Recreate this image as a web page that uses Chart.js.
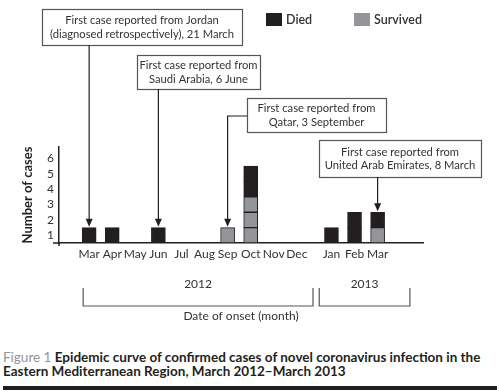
<!DOCTYPE html>
<html lang="en">
<head>
<meta charset="UTF-8">
<title>Epidemic curve, MERS-CoV, Eastern Mediterranean Region</title>
<script src="https://cdn.jsdelivr.net/npm/chart.js"></script>
<style>
  body { margin: 0; background: #fff; font-family: Lato, sans-serif; }
  .wrap { position: relative; width: 500px; height: 392px; overflow: hidden; }
  .chart-box { position: absolute; left: 0; top: 0; width: 500px; height: 330px; }
  .caption {
    position: absolute; left: 3px; top: 350px; width: 497px;
    font-size: 13.5px; line-height: 14.4px; font-weight: bold; color: #231f20;
  }
  .caption .fig { color: #939598; font-weight: normal; }
  .rule { position: absolute; left: 3px; width: 494px; top: 386px; height: 4px; background: #231f20; }
</style>
</head>
<body>
<div class="wrap">
  <div class="chart-box"><canvas id="curve"></canvas></div>
  <div class="caption"><span class="fig">Figure 1</span> Epidemic curve of confirmed cases of novel coronavirus infection in the Eastern Mediterranean Region, March 2012–March 2013</div>
  <div class="rule"></div>
</div>

<script>
// months of onset, March 2012 - March 2013
const months = ['Mar', 'Apr', 'May', 'Jun', 'Jul', 'Aug', 'Sep', 'Oct', 'Nov', 'Dec', 'Jan', 'Feb', 'Mar'];
const years = [2012, 2012, 2012, 2012, 2012, 2012, 2012, 2012, 2012, 2012, 2013, 2013, 2013];
const died = [1, 1, 0, 1, 0, 0, 0, 2, 0, 0, 1, 2, 1];
const survived = [0, 0, 0, 0, 0, 0, 1, 3, 0, 0, 0, 0, 1];
const yTicks = [1, 2, 3, 4, 5, 6];

const notes = [
  { lines: ['First case reported from Jordan', '(diagnosed retrospectively), 21 March'], month: 0, box: [42, 9, 242, 45] },
  { lines: ['First case reported from', 'Saudi Arabia, 6 June'], month: 3, box: [137, 55, 260, 89] },
  { lines: ['First case reported from', 'Qatar, 3 September'], month: 6, box: [247, 98, 386, 132], elbowY: 116 },
  { lines: ['First case reported from', 'United Arab Emirates, 8 March'], month: 12, box: [319, 140, 481, 177] }
];

const INK = '#231f20';
const GREY = '#939598';
const TEXT = '#333';

// small gap between the two years on the time axis
const xPos = months.map((m, i) => i + (years[i] > years[0] ? 0.5 : 0));
const totals = months.map((m, i) => died[i] + survived[i]);

// one dataset per case so every case gets its own box
const datasets = [];
for (let k = 1; k <= Math.max(...survived); k++) {
  datasets.push({
    label: 'Survived',
    data: survived.map((v, i) => ({ x: xPos[i], y: v >= k ? 1 : null })),
    backgroundColor: GREY
  });
}
for (let k = 1; k <= Math.max(...died); k++) {
  datasets.push({
    label: 'Died',
    data: died.map((v, i) => ({ x: xPos[i], y: v >= k ? 1 : null })),
    backgroundColor: INK
  });
}

const extras = {
  id: 'extras',
  afterDraw(chart) {
    const c = chart.ctx;
    const xs = chart.scales.x, ys = chart.scales.y;
    const base = ys.getPixelForValue(0);
    c.save();
    c.strokeStyle = INK;
    c.fillStyle = INK;

    // axis stubs past the corner
    c.lineWidth = 1.5;
    c.beginPath();
    c.moveTo(xs.left - 6, base); c.lineTo(xs.left, base);
    c.moveTo(xs.left, base); c.lineTo(xs.left, base + 3);
    c.stroke();

    // legend
    c.textBaseline = 'middle';
    c.fillStyle = INK;
    c.fillRect(266, 13, 16, 13);
    c.fillStyle = GREY;
    c.fillRect(354, 13, 16, 13);
    c.font = '600 12.5px Lato';
    c.fillStyle = TEXT;
    c.textAlign = 'left';
    c.fillText('Died', 286, 19.5);
    c.fillText('Survived', 374, 19.5);

    // annotation boxes with arrows
    c.font = '11.2px Lato';
    c.textAlign = 'center';
    c.lineWidth = 1.2;
    notes.forEach(n => {
      const [x1, y1, x2, y2] = n.box;
      c.strokeStyle = '#555';
      c.strokeRect(x1 + 0.5, y1 + 0.5, x2 - x1, y2 - y1);
      c.fillStyle = TEXT;
      const mid = (y1 + y2) / 2;
      c.fillText(n.lines[0], (x1 + x2) / 2, mid - 6.5);
      c.fillText(n.lines[1], (x1 + x2) / 2, mid + 7);

      const ax = xs.getPixelForValue(xPos[n.month]);
      const ay = ys.getPixelForValue(totals[n.month]) - 1;
      c.strokeStyle = INK;
      c.beginPath();
      if (n.elbowY) {
        c.moveTo(x1, n.elbowY);
        c.lineTo(ax, n.elbowY);
      } else {
        c.moveTo(ax, y2);
      }
      c.lineTo(ax, ay - 6);
      c.stroke();
      c.fillStyle = INK;
      c.beginPath();
      c.moveTo(ax - 3.5, ay - 8);
      c.lineTo(ax + 3.5, ay - 8);
      c.lineTo(ax, ay);
      c.closePath();
      c.fill();
    });

    // year brackets under the month labels
    const brackets = [
      { label: String(years[0]), from: -0.26, to: 9.7 },
      { label: String(years[years.length - 1]), from: 9.97, to: 13.9 }
    ];
    c.strokeStyle = '#555';
    c.lineWidth = 1.2;
    c.font = '12px Lato';
    c.fillStyle = TEXT;
    brackets.forEach(b => {
      const l = xs.getPixelForValue(b.from), r = xs.getPixelForValue(b.to);
      c.beginPath();
      c.moveTo(l, 288); c.lineTo(l, 306); c.lineTo(r, 306); c.lineTo(r, 288);
      c.stroke();
      c.fillText(b.label, (l + r) / 2, 284);
    });
    c.restore();
  }
};

new Chart(document.getElementById('curve'), {
  type: 'bar',
  data: { datasets },
  options: {
    responsive: true,
    maintainAspectRatio: false,
    animation: false,
    layout: { padding: { top: 147, right: 77, left: 0, bottom: 0 } },
    datasets: {
      bar: {
        barThickness: 14,
        borderColor: INK,
        borderWidth: 1,
        borderSkipped: false
      }
    },
    plugins: { legend: { display: false }, tooltip: { enabled: false } },
    scales: {
      x: {
        type: 'linear',
        stacked: true,
        min: -0.7,
        max: 13.86,
        grid: { display: false, drawTicks: false },
        border: { display: true, color: INK, width: 1.5 },
        afterBuildTicks: s => { s.ticks = xPos.map(v => ({ value: v })); },
        afterFit: s => { s.height = 87; },
        ticks: {
          autoSkip: false,
          maxRotation: 0,
          padding: 4,
          color: TEXT,
          font: { family: 'Lato', size: 12 },
          callback: (v, i) => months[i]
        },
        title: {
          display: true,
          text: 'Date of onset (month)',
          color: TEXT,
          font: { family: 'Lato', size: 12 },
          padding: { top: 7, bottom: 7 }
        }
      },
      y: {
        stacked: true,
        min: 0,
        max: 6.25,
        grid: { display: false, drawTicks: false },
        border: { display: true, color: INK, width: 1.5 },
        afterBuildTicks: s => { s.ticks = yTicks.map(v => ({ value: v - 0.5 })); },
        afterFit: s => { s.width = 59; },
        ticks: {
          padding: 5,
          color: TEXT,
          font: { family: 'Lato', size: 12 },
          callback: (v, i) => yTicks[i]
        },
        title: {
          display: true,
          text: 'Number of cases',
          color: INK,
          font: { family: 'Lato', size: 13, weight: 'bold' },
          padding: { top: 20, bottom: 0 }
        }
      }
    }
  },
  plugins: [extras]
});
</script>
</body>
</html>
